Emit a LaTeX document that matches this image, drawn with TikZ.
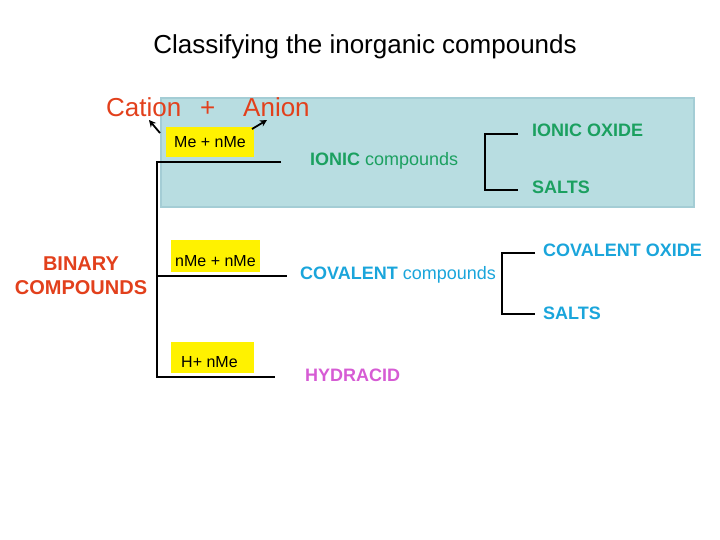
\documentclass[tikz,border=0pt]{standalone}
\usepackage{fontspec}
\setmainfont{Liberation Sans}
\usetikzlibrary{arrows.meta}
\definecolor{redor}{HTML}{E2401C}
\definecolor{ionicg}{HTML}{1BA060}
\definecolor{covb}{HTML}{1AA5DB}
\definecolor{hydm}{HTML}{D65CD4}
\definecolor{boxfill}{HTML}{B8DDE1}
\definecolor{boxline}{HTML}{A4CDD5}
\tikzset{
  txt/.style={inner sep=0pt, anchor=base west},
  conn/.style={line width=1.3pt, black},
  arr/.style={line width=1.8pt, -{Stealth[length=7pt,width=7pt]}},
  mefont/.style={font=\fontsize{16}{18}\selectfont},
  subfont/.style={font=\bfseries\fontsize{18}{21}\selectfont},
}
\begin{document}
\begin{tikzpicture}[x=1pt,y=-1pt]
\useasboundingbox (0,0) rectangle (720,540);
% blue background box
\draw[fill=boxfill, draw=boxline, line width=2pt] (161,98) rectangle (694,207);
% title
\node[inner sep=0pt, anchor=base, font=\fontsize{26}{30}\selectfont] (title) at (365,54) {Classifying the inorganic compounds};
% cation + anion
\node[txt, text=redor, font=\fontsize{26}{30}\selectfont] (cation) at (106,117) {Cation};
\node[txt, text=redor, font=\fontsize{26}{30}\selectfont] (plus) at (200,117) {+};
\node[txt, text=redor, font=\fontsize{26}{30}\selectfont] (anion) at (243,117) {Anion};
% yellow boxes
\fill[yellow] (166,127) rectangle (254,157);
\fill[yellow] (171,240) rectangle (260,272);
\fill[yellow] (171,342) rectangle (254,373);
\node[txt, mefont] (me1) at (174,148) {Me + nMe};
\node[txt, mefont] (me2) at (175,266) {nMe + nMe};
\node[txt, mefont] (me3) at (181,367) {H+ nMe};
% arrows
\coordinate (a1s) at (160,133);
\coordinate (a1e) at (149,120);
\coordinate (a2s) at (252,129);
\coordinate (a2e) at (267,120);
\draw[arr] (a1s) -- (a1e);
\draw[arr] (a2s) -- (a2e);
% binary
\node[inner sep=0pt, anchor=base, text=redor, font=\bfseries\fontsize{20}{24}\selectfont] (binary) at (81,270) {BINARY};
\node[inner sep=0pt, anchor=base, text=redor, font=\bfseries\fontsize{20}{24}\selectfont] (compounds) at (81,294) {COMPOUNDS};
% main tree lines
\coordinate (t1) at (157,162);
\coordinate (t1e) at (281,162);
\coordinate (t2) at (157,276);
\coordinate (t2e) at (287,276);
\coordinate (t3) at (157,377);
\coordinate (t3e) at (275,377);
\draw[conn] (t1e) -- (t1) -- (t3) -- (t3e);
\draw[conn] (t2) -- (t2e);
% ionic
\node[txt, text=ionicg, font=\fontsize{18}{21}\selectfont] (ionic) at (310,166) {\textbf{IONIC} compounds};
\node[txt, text=ionicg, subfont] (ioxide) at (532,137) {IONIC OXIDE};
\node[txt, text=ionicg, subfont] (isalts) at (532,194) {SALTS};
\coordinate (ib1) at (518,134);
\coordinate (ib2) at (485,134);
\coordinate (ib3) at (485,190);
\coordinate (ib4) at (518,190);
\draw[conn] (ib1) -- (ib2) -- (ib3) -- (ib4);
% covalent
\node[txt, text=covb, font=\fontsize{18}{21}\selectfont] (coval) at (300,279) {\textbf{COVALENT} compounds};
\node[txt, text=covb, subfont] (coxide) at (543,256) {COVALENT OXIDE};
\node[txt, text=covb, subfont] (csalts) at (543,319) {SALTS};
\coordinate (cb1) at (535,253);
\coordinate (cb2) at (502,253);
\coordinate (cb3) at (502,314);
\coordinate (cb4) at (535,314);
\draw[conn] (cb1) -- (cb2) -- (cb3) -- (cb4);
% hydracid
\node[txt, text=hydm, subfont] (hyd) at (305,381) {HYDRACID};
\end{tikzpicture}
\end{document}
